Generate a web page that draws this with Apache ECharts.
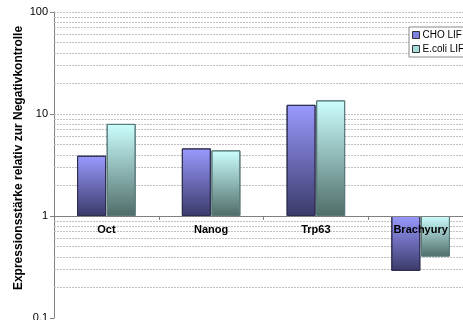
<!DOCTYPE html>
<html>
<head>
<meta charset="utf-8">
<script src="https://cdn.jsdelivr.net/npm/echarts@6/dist/echarts.min.js"></script>
<style>
html,body{margin:0;padding:0;background:#fff;}
#chart{width:463px;height:320px;}
</style>
</head>
<body>
<div id="chart"></div>
<script>
var categories = ['Oct', 'Nanog', 'Trp63', 'Brachyury'];
var choLIF = [3.9, 4.6, 12.3, 0.29];
var ecoliLIF = [8.0, 4.4, 13.6, 0.4];
var tickLabels = ['0.1', '1', '10', '100'];
var minorSteps = [2, 3, 4, 5, 6, 7, 8, 9];
var decades = [0.1, 1, 10];

var lg = function (v) { return Math.log10(v); };

var gridVals = [];
decades.forEach(function (d) {
  minorSteps.forEach(function (k) { gridVals.push(k * d); });
});
gridVals.push(10, 100);

var chart = echarts.init(document.getElementById('chart'));
var font = 'Liberation Sans, Arial, sans-serif';
var gridBottom = 2;

chart.setOption({
  animation: false,
  textStyle: { fontFamily: font },
  grid: { left: 54, top: 12, bottom: gridBottom, right: -10, containLabel: false, outerBoundsMode: 'none' },
  legend: {
    orient: 'vertical',
    left: 409,
    top: 27,
    itemWidth: 7,
    itemHeight: 7,
    itemGap: 4,
    icon: 'rect',
    padding: [3, 8, 3, 3],
    backgroundColor: '#fff',
    borderColor: '#888',
    borderWidth: 1,
    borderRadius: 0,
    z: 10,
    textStyle: { fontSize: 10, color: '#000', padding: [0, 0, 0, -2] },
    data: [
      { name: 'CHO LIF', itemStyle: { color: '#7f7fdf', borderColor: '#333', borderWidth: 1 } },
      { name: 'E.coli LIF', itemStyle: { color: '#a8dcdc', borderColor: '#333', borderWidth: 1 } }
    ]
  },
  xAxis: {
    type: 'category',
    data: categories,
    z: 6,
    axisLine: { onZero: false, lineStyle: { color: '#808080', width: 1 } },
    axisTick: { show: true, length: 4, lineStyle: { color: '#808080' } },
    axisLabel: { fontWeight: 'bold', fontSize: 11, color: '#000', margin: 8, fontFamily: font },
    splitLine: { show: false }
  },
  yAxis: {
    type: 'value',
    min: -1,
    max: 2,
    interval: 1,
    name: 'Expressionsstärke relativ zur Negativkontrolle',
    nameLocation: 'middle',
    nameGap: 29,
    nameMoveOverlap: false,
    nameTextStyle: { fontWeight: 'bold', fontSize: 12, color: '#000', fontFamily: font, padding: [0, 0, 0, 14] },
    axisLine: { show: true, lineStyle: { color: '#808080' } },
    axisTick: { show: true, length: 4, lineStyle: { color: '#808080' } },
    axisLabel: {
      fontSize: 11, color: '#000', margin: 6, fontFamily: font,
      formatter: function (v) { return tickLabels[Math.round(v) + 1]; }
    },
    splitLine: { show: false }
  },
  series: [
    {
      type: 'line',
      data: [],
      z: 1,
      silent: true,
      markLine: {
        z: 1,
        silent: true,
        symbol: 'none',
        label: { show: false },
        lineStyle: { color: '#c0c0c0', type: [2, 1], width: 1 },
        data: gridVals.map(function (v) { return { yAxis: lg(v) }; })
      }
    },
    {
      name: 'CHO LIF',
      type: 'bar',
      z: 4,
      barWidth: 29,
      barGap: '2%',
      data: choLIF.map(lg),
      itemStyle: {
        borderColor: '#2e2e50',
        borderWidth: 1,
        color: new echarts.graphic.LinearGradient(0, 0, 0, 1, [
          { offset: 0, color: '#9a9aff' },
          { offset: 1, color: '#3a3a6a' }
        ])
      }
    },
    {
      name: 'E.coli LIF',
      type: 'bar',
      z: 4,
      barWidth: 29,
      barGap: '2%',
      data: ecoliLIF.map(lg),
      itemStyle: {
        borderColor: '#5a7a7a',
        borderWidth: 1,
        color: new echarts.graphic.LinearGradient(0, 0, 0, 1, [
          { offset: 0, color: '#ccffff' },
          { offset: 1, color: '#4f6d68' }
        ])
      }
    }
  ]
});

// Move the category axis (line, ticks, labels) up to the value 1 (log10 = 0)
var bottomPx = chart.convertToPixel({ yAxisIndex: 0 }, -1);
var onePx = chart.convertToPixel({ yAxisIndex: 0 }, 0);
chart.setOption({ xAxis: { offset: -(bottomPx - onePx) } });
</script>
</body>
</html>
